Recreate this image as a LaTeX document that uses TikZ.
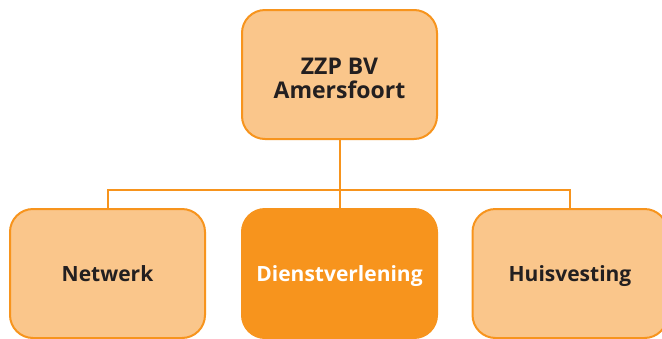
\documentclass[tikz,border=0pt]{standalone}
\usepackage{fontspec}
\setmainfont{Open Sans}
\definecolor{boxfill}{HTML}{FAC68B}
\definecolor{boxline}{HTML}{F7941D}
\definecolor{txt}{HTML}{231F20}
\begin{document}
\begin{tikzpicture}[x=1pt,y=-1pt,
  orgbox/.style={draw=boxline, line width=2pt, fill=boxfill, rounded corners=23pt,
    minimum width=195pt, minimum height=129pt, inner sep=0pt, align=center,
    font=\fontsize{21}{21.5}\selectfont\bfseries, text=txt},
  single/.style={text height=16pt, text depth=0pt},
  hot/.style={fill=boxline, text=white},
  link/.style={draw=boxline, line width=2pt}]
\clip (0,0) rectangle (662,338);
\fill[white] (0,0) rectangle (662,338);
\node[orgbox, font=\fontsize{23}{21.5}\selectfont\bfseries] (top) at (339.5,74.5)
  {\begin{tabular}{@{}c@{}}\rule{0pt}{31pt}ZZP BV\\Amersfoort\end{tabular}};
\node[orgbox,single] (net) at (107.5,273.5) {Netwerk};
\node[orgbox,single,hot] (dien) at (339.5,273.5) {Dienstverlening};
\node[orgbox,single] (huis) at (570,273.5) {Huisvesting};
\coordinate (bar) at (339.5,190);
\draw[link] (top.south) -- (dien.north);
\draw[link] (net.north) |- (bar) -| (huis.north);
\end{tikzpicture}
\end{document}
